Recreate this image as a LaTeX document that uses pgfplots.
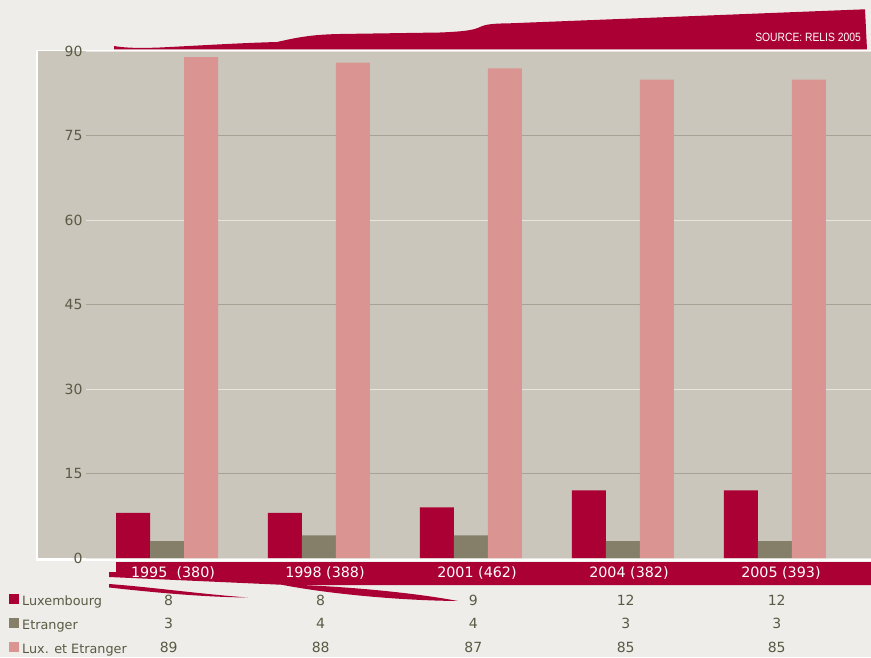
\documentclass[border=0pt]{standalone}
\usepackage{pgfplots}
\pgfplotsset{compat=1.18}
\usepackage{fontspec}
\setmainfont{DejaVu Sans}
\newfontfamily\srcfont{Liberation Sans}
\definecolor{pagebg}{RGB}{238,237,233}
\definecolor{plotbg}{RGB}{202,198,187}
\definecolor{luxred}{RGB}{170,0,51}
\definecolor{etrgrey}{RGB}{133,127,105}
\definecolor{luxpink}{RGB}{218,149,146}
\definecolor{griddark}{RGB}{168,162,148}
\definecolor{gridlight}{RGB}{232,229,222}
\definecolor{txt}{RGB}{90,90,68}
\begin{document}
\begin{tikzpicture}
\path[use as bounding box] (0pt,0pt) rectangle (871pt,657pt);
\begin{scope}[x=1pt,y=1pt]
\clip (0,0) rectangle (871,657);
\fill[pagebg] (0,0) rectangle (871,657);
% top swoosh (pixel y -> 657 - y)
\fill[luxred] (114,657-49.5) -- (114,657-46)
  .. controls (125,657-48) and (140,657-48.3) .. (160,657-47.5)
  .. controls (200,657-45.5) and (240,657-43) .. (277,657-42)
  .. controls (295,657-38) and (310,657-34.5) .. (340,657-34)
  -- (440,657-32.5)
  .. controls (465,657-31.5) and (474,657-30) .. (480,657-27)
  .. controls (486,657-24) and (495,657-23.5) .. (510,657-23.3)
  -- (865,657-9.3) -- (867,657-49.5) -- cycle;
\node[anchor=base east, text=white, inner sep=0pt, font=\srcfont\fontsize{12}{14}\selectfont]
  at (861,657-41.7) {\scalebox{0.86}[1]{SOURCE: RELIS 2005}};
% plot area
\fill[white] (36,657-560.5) rectangle (875,657-49.6);
\fill[plotbg] (38,657-558.4) rectangle (875,657-51);
% category band
\fill[luxred] (116,657-562) -- (875,657-562) -- (875,657-585) -- (287,657-585)
  -- (109,657-577) -- (109,657-572) -- (116,657-572) -- cycle;
\fill[luxred] (109,657-584) .. controls (150,657-587) and (200,657-594) .. (248,657-597.5)
  .. controls (200,657-597) and (150,657-592) .. (109,657-587.5) -- cycle;
\fill[luxred] (287,657-584.5) .. controls (340,657-586) and (410,657-592) .. (458,657-601)
  .. controls (400,657-600.5) and (330,657-594) .. (283,657-585) -- cycle;
\end{scope}

\begin{axis}[
  at={(86pt,99pt)}, anchor=south west,
  scale only axis, width=785pt, height=506.6pt,
  xmin=-0.533, xmax=4.632, ymin=0, ymax=90,
  axis line style={draw=none}, major tick length=0pt,
  ybar=0pt, bar width=34pt,
  ytick={15,45,75}, extra y ticks={0,30,60,90},
  ymajorgrids, grid style={griddark, line width=1.3pt},
  extra y tick style={grid style={gridlight, line width=0.9pt}},
  /pgf/number format/assume math mode=true,
  yticklabel style={text=txt, font=\fontsize{14}{16}\selectfont},
  xtick={0,1,2,3,4},
  xticklabels={1995\ \ (380),1998 (388),2001 (462),2004 (382),2005 (393)},
  xticklabel style={text=white, anchor=base, yshift=-19.3pt, xshift=6pt, font=\fontsize{14.3}{16}\selectfont},
  clip=false,
]
\addplot[fill=luxred, draw=none] coordinates {(0,8) (1,8) (2,9) (3,12) (4,12)};
\addplot[fill=etrgrey, draw=none] coordinates {(0,3) (1,4) (2,4) (3,3) (4,3)};
\addplot[fill=luxpink, draw=none] coordinates {(0,89) (1,88) (2,87) (3,85) (4,85)};
\end{axis}

\begin{scope}[x=1pt,y=1pt, every node/.style={inner sep=0pt, text=txt}]
% legend
\fill[luxred] (9,657-604) rectangle (19,657-594);
\fill[etrgrey] (9,657-628) rectangle (19,657-618);
\fill[luxpink] (9,657-652) rectangle (19,657-642);
\node[anchor=base west, font=\fontsize{12.8}{15}\selectfont] at (22,657-605.5) {Luxembourg};
\node[anchor=base west, font=\fontsize{12.8}{15}\selectfont] at (22,657-629) {Etranger};
\node[anchor=base west, font=\fontsize{12.8}{15}\selectfont] at (22,657-653) {Lux. et Etranger};
% table values
\foreach \x/\a/\b/\c in {168.7/8/3/89, 320.7/8/4/88, 473.3/9/4/87, 625.7/12/3/85, 776.7/12/3/85}{
  \node[anchor=base, font=\fontsize{14}{16}\selectfont] at (\x,657-605) {\a};
  \node[anchor=base, font=\fontsize{14}{16}\selectfont] at (\x,657-628.5) {\b};
  \node[anchor=base, font=\fontsize{14}{16}\selectfont] at (\x,657-652) {\c};
}
\end{scope}
\end{tikzpicture}
\end{document}
